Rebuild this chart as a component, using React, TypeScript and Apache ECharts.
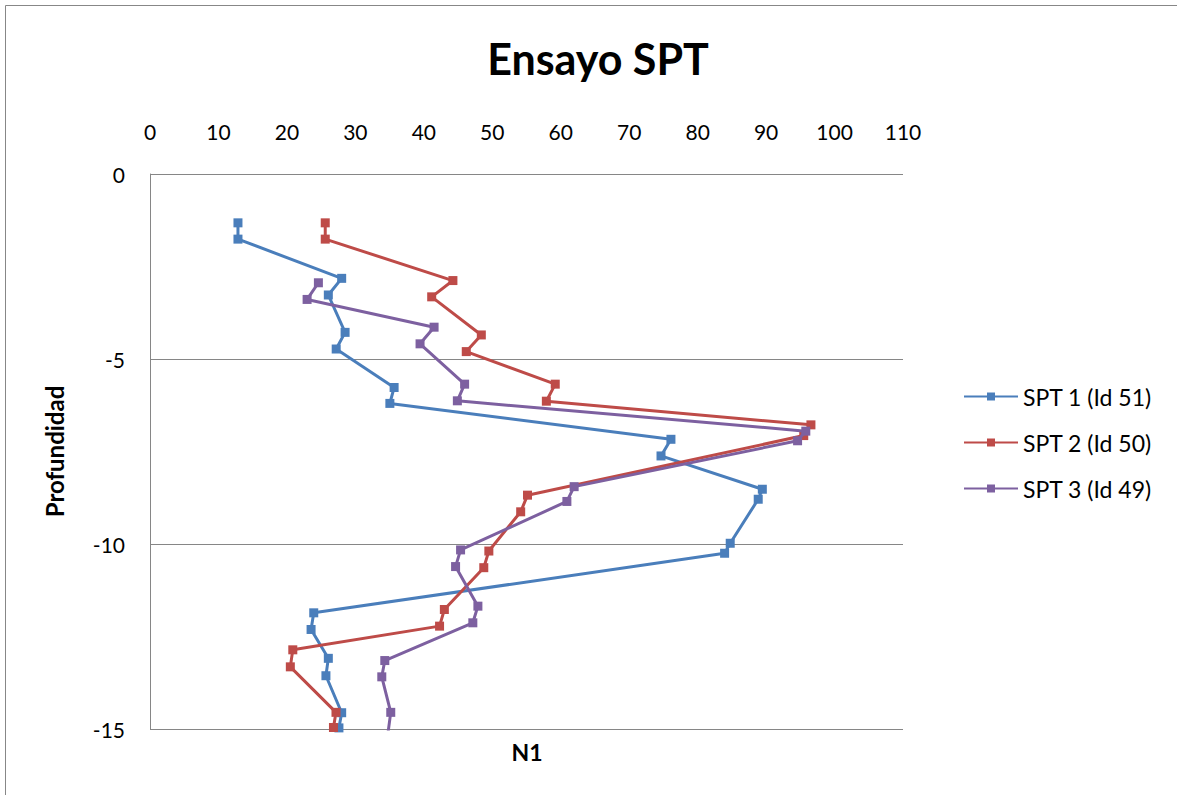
import React, { useEffect, useRef } from "react";
import * as echarts from "echarts";

const seriesNames = ["SPT 1 (Id 51)", "SPT 2 (Id 50)", "SPT 3 (Id 49)"];
const seriesColors = ["#4A7EBB", "#BE4B48", "#7D60A0"];

const spt1N = [12.85, 12.85, 28.0, 26.05, 28.5, 27.2, 35.66, 35.04, 76.1, 74.65, 89.45, 88.85, 84.76, 83.94, 23.92, 23.53, 26.05, 25.7, 28.0, 27.6];
const spt1D = [-1.32, -1.76, -2.82, -3.27, -4.28, -4.73, -5.77, -6.2, -7.17, -7.62, -8.52, -8.79, -9.98, -10.25, -11.86, -12.31, -13.09, -13.56, -14.56, -14.97];

const spt2N = [25.6, 25.6, 44.25, 41.15, 48.4, 46.2, 59.2, 57.9, 96.55, 95.5, 55.15, 54.15, 49.5, 48.76, 43.0, 42.3, 20.86, 20.5, 27.17, 26.8];
const spt2D = [-1.32, -1.76, -2.88, -3.32, -4.35, -4.8, -5.68, -6.14, -6.78, -7.07, -8.68, -9.13, -10.19, -10.64, -11.77, -12.22, -12.86, -13.32, -14.55, -14.96];

const spt3N = [24.6, 22.95, 41.5, 39.45, 45.96, 44.9, 95.8, 94.6, 61.96, 60.9, 45.37, 44.64, 47.9, 47.16, 34.3, 33.86, 35.17, 34.7];
const spt3D = [-2.94, -3.39, -4.14, -4.59, -5.68, -6.13, -6.95, -7.21, -8.45, -8.85, -10.16, -10.61, -11.68, -12.13, -13.15, -13.59, -14.55, -15.2];

const FONT = "Lato";

export default function App() {
  const ref = useRef<HTMLDivElement>(null);
  useEffect(() => {
    document.body.style.margin = "0";
    const chart = echarts.init(ref.current!, null, { renderer: "svg" });
    const allN = [spt1N, spt2N, spt3N];
    const allD = [spt1D, spt2D, spt3D];
    chart.setOption({
      animation: false,
      backgroundColor: "#ffffff",
      textStyle: { fontFamily: FONT },
      title: {
        text: "Ensayo SPT",
        left: 593,
        top: 32,
        textAlign: "center",
        textStyle: { fontFamily: FONT, fontSize: 43, fontWeight: "bold", color: "#000" },
      },
      graphic: [
        {
          type: "rect",
          shape: { x: 5.5, y: 5.5, width: 1300, height: 900 },
          style: { fill: "none", stroke: "#878787", lineWidth: 1 },
          silent: true,
        },
        {
          type: "text",
          x: 527,
          y: 752,
          style: { text: "N1", fontFamily: FONT, fontSize: 23, fontWeight: "bold", fill: "#000", align: "center", verticalAlign: "middle" },
          silent: true,
        },
      ],
      legend: {
        orient: "vertical",
        left: 958,
        top: 380,
        itemWidth: 54,
        itemHeight: 10,
        itemGap: 23,
        textStyle: { fontFamily: FONT, fontSize: 23, color: "#000" },
        data: seriesNames,
      },
      grid: { left: 150, top: 174, right: 274, bottom: 66, containLabel: false },
      xAxis: {
        type: "value",
        position: "top",
        min: 0,
        max: 110,
        interval: 10,
        axisLine: { show: false },
        axisTick: { show: false },
        splitLine: { show: false },
        axisLabel: { fontFamily: FONT, fontSize: 21, color: "#000", margin: 32 },
      },
      yAxis: {
        type: "value",
        min: -15,
        max: 0,
        interval: 5,
        name: "Profundidad",
        nameLocation: "middle",
        nameGap: 84,
        nameRotate: 90,
        nameTextStyle: { fontFamily: FONT, fontSize: 24, fontWeight: "bold", color: "#000" },
        axisLine: { show: true, lineStyle: { color: "#868686", width: 1 } },
        axisTick: { show: false },
        splitLine: { show: true, lineStyle: { color: "#868686", width: 1 } },
        axisLabel: { fontFamily: FONT, fontSize: 21, color: "#000", margin: 25 },
      },
      series: seriesNames.map((name, i) => ({
        name,
        type: "line",
        data: allN[i].map((n, j) => [n, allD[i][j]]),
        symbol: "rect",
        symbolSize: 9,
        clip: true,
        lineStyle: { color: seriesColors[i], width: 3 },
        itemStyle: { color: seriesColors[i] },
        z: 2 + i,
      })),
    });
    return () => chart.dispose();
  }, []);
  return <div ref={ref} style={{ position: "absolute", left: 0, top: 0, width: 1177, height: 795 }} />;
}
